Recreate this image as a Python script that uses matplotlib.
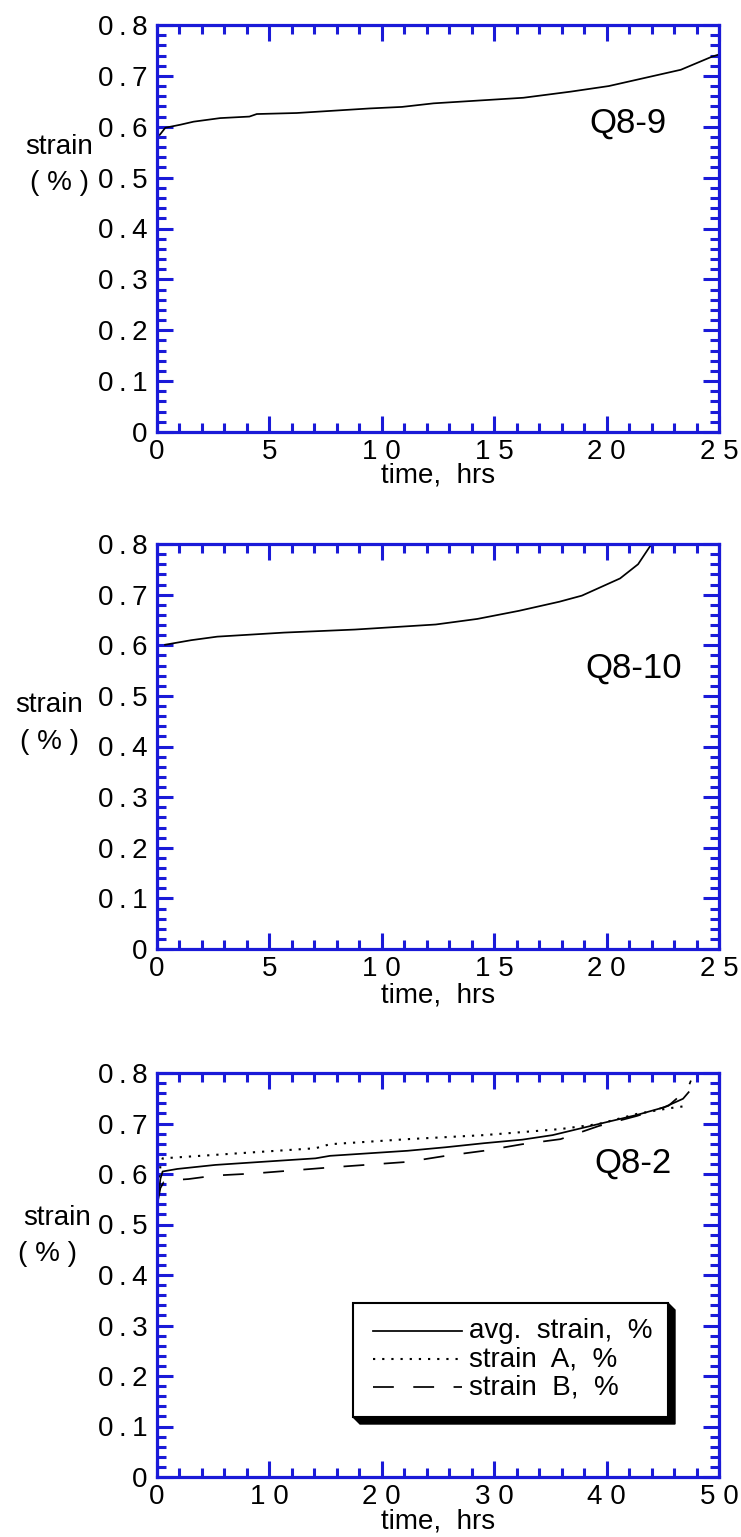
import matplotlib
matplotlib.use('Agg')
import matplotlib.pyplot as plt
from matplotlib.ticker import MultipleLocator
from matplotlib.patches import Rectangle, Polygon

plt.rcParams['font.family'] = ['Liberation Sans', 'DejaVu Sans']
plt.rcParams['lines.scale_dashes'] = False

# ---------------- data ----------------
q89_t = [0.12, 0.37, 1.04, 1.63, 2.81, 4.11, 4.44, 6.21, 9.47, 10.9, 12.3, 16.3, 18.4, 20.1, 21.8, 23.3, 24.7, 25.0]
q89_s = [0.584, 0.598, 0.604, 0.610, 0.617, 0.620, 0.625, 0.627, 0.636, 0.639, 0.646, 0.657, 0.669, 0.680, 0.697, 0.712, 0.738, 0.742]

q810_t = [0.36, 1.52, 2.68, 5.65, 8.8, 12.4, 14.25, 16.1, 17.9, 18.9, 20.6, 21.4, 22.0]
q810_s = [0.601, 0.610, 0.617, 0.625, 0.631, 0.641, 0.652, 0.668, 0.686, 0.698, 0.732, 0.760, 0.800]

q82_avg_t = [0.15, 0.3, 0.5, 1.8, 5.2, 8.6, 14.1, 15.4, 22.3, 25.7, 29.1, 32.5, 35.2, 39.3, 42.7, 45.1, 46.8, 47.3]
q82_avg_s = [0.560, 0.590, 0.605, 0.610, 0.618, 0.623, 0.631, 0.636, 0.646, 0.653, 0.661, 0.668, 0.677, 0.699, 0.717, 0.732, 0.749, 0.762]

q82_a_t = [0.1, 0.3, 0.5, 8.6, 14.1, 15.4, 22.3, 29.1, 32.5, 35.9, 39.3, 42.7, 45.5, 47.2]
q82_a_s = [0.575, 0.615, 0.631, 0.643, 0.651, 0.659, 0.669, 0.677, 0.683, 0.689, 0.699, 0.719, 0.730, 0.735]

q82_b_t = [0.07, 0.3, 0.6, 1.5, 2.8, 5.2, 8.6, 15.4, 22.3, 25.7, 29.1, 32.5, 35.9, 39.3, 42.7, 45.5, 47.2, 47.5]
q82_b_s = [0.545, 0.572, 0.584, 0.588, 0.590, 0.597, 0.601, 0.613, 0.624, 0.636, 0.646, 0.659, 0.669, 0.695, 0.715, 0.735, 0.768, 0.785]

y_ticks = [0, 0.1, 0.2, 0.3, 0.4, 0.5, 0.6, 0.7, 0.8]
y_ticklabels = ['0', '0\u2009.\u20091', '0\u2009.\u20092', '0\u2009.\u20093', '0\u2009.\u20094',
                '0\u2009.\u20095', '0\u2009.\u20096', '0\u2009.\u20097', '0\u2009.\u20098']
x25_ticks = [0, 5, 10, 15, 20, 25]
x25_labels = ['0', '5', '1 0', '1 5', '2 0', '2 5']
x50_ticks = [0, 10, 20, 30, 40, 50]
x50_labels = ['0', '1 0', '2 0', '3 0', '4 0', '5 0']
legend_labels = ['avg.  strain,  %', 'strain  A,  %', 'strain  B,  %']
panel_names = ['Q8-9', 'Q8-10', 'Q8-2']

# ---------------- figure ----------------
BLUE = '#1a1ad8'
W, H = 741, 1537
fig = plt.figure(figsize=(W / 100, H / 100), dpi=100)
FS = 20


def fx(x):
    return x / W


def fy(y):
    return 1 - y / H


def make_axes(top, bottom, left=157, right=719):
    return fig.add_axes([fx(left), fy(bottom), (right - left) / W, (bottom - top) / H])


def style(ax, xmax, xticks, xlabels, xminor):
    ax.set_xlim(0, xmax)
    ax.set_ylim(0, 0.8)
    for s in ax.spines.values():
        s.set_color(BLUE)
        s.set_linewidth(2.3)
    ax.set_xticks(xticks)
    ax.set_xticklabels(xlabels, fontsize=FS)
    ax.set_yticks(y_ticks)
    ax.set_yticklabels(y_ticklabels, fontsize=FS)
    ax.xaxis.set_minor_locator(MultipleLocator(xminor))
    ax.yaxis.set_minor_locator(MultipleLocator(0.02))
    ax.tick_params(which='both', direction='in', top=True, right=True,
                   color=BLUE, width=2.2)
    ax.tick_params(which='major', length=11.5)
    ax.tick_params(which='minor', length=6.5)
    ax.tick_params(axis='x', pad=5)
    ax.tick_params(axis='y', pad=7)


LW = 1.25

# Panel 1
ax1 = make_axes(25, 432)
style(ax1, 25, x25_ticks, x25_labels, 1)
ax1.plot(q89_t, q89_s, color='black', lw=LW)

# Panel 2
ax2 = make_axes(544, 949)
style(ax2, 25, x25_ticks, x25_labels, 1)
ax2.plot(q810_t, q810_s, color='black', lw=LW)

# Panel 3
ax3 = make_axes(1073, 1477)
style(ax3, 50, x50_ticks, x50_labels, 2)
DOT = (0, (1.6, 5.0))
DASH = (0, (15, 14))
ax3.plot(q82_avg_t, q82_avg_s, color='black', lw=LW)
ax3.plot(q82_a_t, q82_a_s, color='black', lw=1.5, linestyle=DOT)
ax3.plot(q82_b_t, q82_b_s, color='black', lw=LW, linestyle=DASH)

# Axis-side texts
for (sy, py, sx, pxx), ty in zip([(147, 183, 59, 60), (705, 742, 49, 50), (1218, 1254, 57, 48)],
                                  [475, 995, 1522]):
    fig.text(fx(sx), fy(sy), 'strain', fontsize=FS, ha='center', va='center')
    fig.text(fx(pxx), fy(py), '( % )', fontsize=FS, ha='center', va='center')
    fig.text(fx(438), fy(ty), 'time,  hrs', fontsize=FS, ha='center', va='center')

for name, (cx, cy) in zip(panel_names, [(628, 123), (634, 668), (633, 1163)]):
    fig.text(fx(cx), fy(cy), name, fontsize=25, ha='center', va='center')

# Legend (manual, with 3D shadow) in panel 3
x0p, x1p, y0p, y1p = 353, 668, 1303, 1417   # pixel box
d = 7
ax_l, ax_r, ax_t, ax_b = 157, 719, 1073, 1477


def pd(px, py):
    return ((px - ax_l) / (ax_r - ax_l) * 50, (ax_b - py) / (ax_b - ax_t) * 0.8)


shadow = Polygon([pd(x0p, y1p), pd(x0p + d, y1p + d), pd(x1p + d, y1p + d),
                  pd(x1p + d, y0p + d), pd(x1p, y0p), pd(x1p, y1p)],
                 closed=True, facecolor='black', edgecolor='black', lw=1, zorder=5)
ax3.add_patch(shadow)
bx0, by0 = pd(x0p, y1p)
bx1, by1 = pd(x1p, y0p)
ax3.add_patch(Rectangle((bx0, by0), bx1 - bx0, by1 - by0, facecolor='white',
                        edgecolor='black', lw=1.5, zorder=6))
styles = ['-', DOT, DASH]
widths = [LW, 1.5, LW]
for lab, ls, lw, ly in zip(legend_labels, styles, widths, [1331, 1359, 1387]):
    (lx0, yy), (lx1, _) = pd(373, ly), pd(462, ly)
    ax3.plot([lx0, lx1], [yy, yy], color='black', lw=lw, linestyle=ls, zorder=7)
    tx, _ = pd(469, ly)
    ax3.text(tx, yy, lab, fontsize=FS, ha='left', va='center', zorder=7)

fig.savefig('out.png', dpi=100)
